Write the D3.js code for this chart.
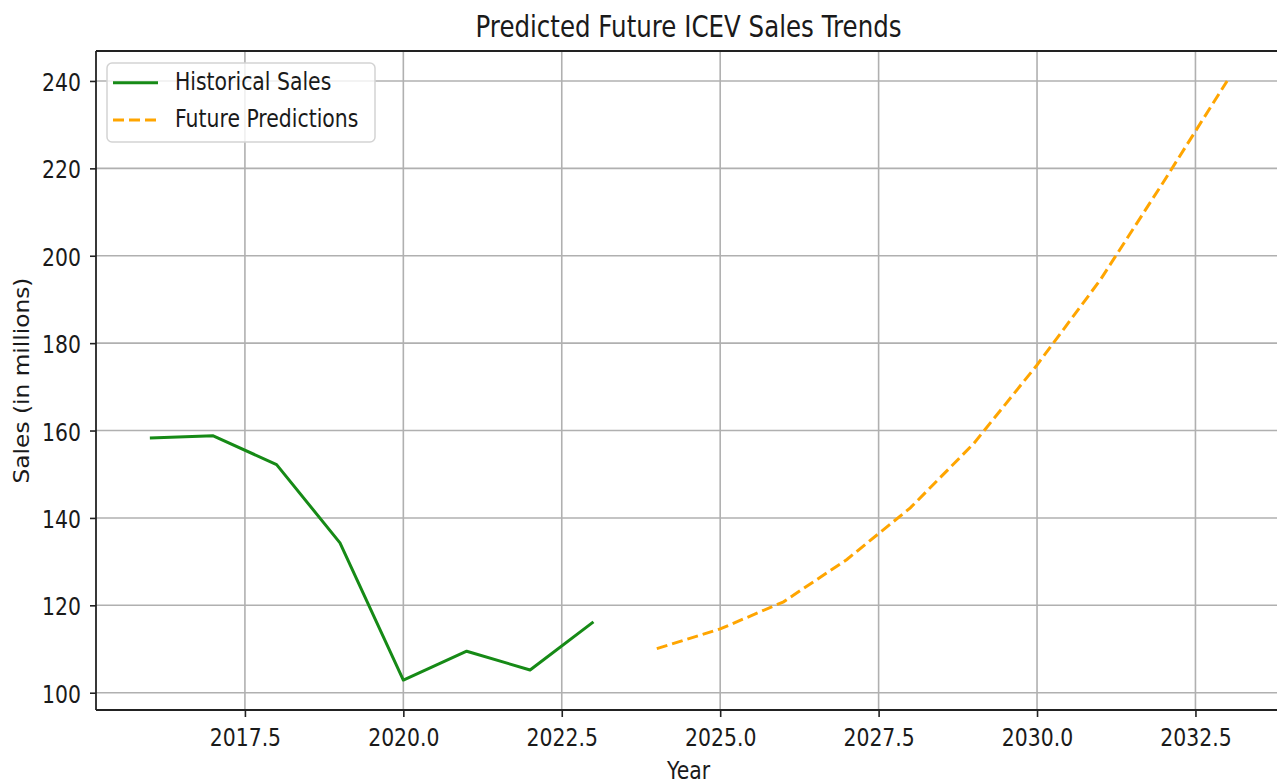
<!DOCTYPE html>
<html><head><meta charset="utf-8">
<script src="https://cdn.jsdelivr.net/npm/d3@7"></script>
<style>body{margin:0;background:#fff}svg{display:block}text{font-family:"DejaVu Sans",sans-serif;fill:#1a1a1a}</style>
</head><body><svg id="c" width="1277" height="783"></svg>
<script>
const histYears = [2016, 2017, 2018, 2019, 2020, 2021, 2022, 2023];
const histSales = [158.3, 158.8, 152.2, 134.3, 102.9, 109.5, 105.2, 116.2];
const futureYears = [2024, 2025, 2026, 2027, 2028, 2029, 2030, 2031, 2032, 2033];
const futureSales = [110.1, 114.6, 120.8, 130.5, 142.3, 157.0, 175.0, 194.5, 217.0, 240.0];
const xTicks = [2017.5, 2020, 2022.5, 2025, 2027.5, 2030, 2032.5];
const yTicks = [100, 120, 140, 160, 180, 200, 220, 240];
const titleText = "Predicted Future ICEV Sales Trends";
const xLabel = "Year";
const yLabel = "Sales (in millions)";
const legendLabels = ["Historical Sales", "Future Predictions"];

const SX = 0.826; // horizontal text compression of the reference image
const FS = 24.7;  // tick / label font size
const m = {left: 96, top: 51, right: 1281, bottom: 710};
const svg = d3.select("#c");

function pad(e) { const d = (e[1] - e[0]) * 0.05; return [e[0] - d, e[1] + d]; }
const x = d3.scaleLinear().domain(pad(d3.extent(histYears.concat(futureYears)))).range([m.left, m.right]);
const y = d3.scaleLinear().domain(pad(d3.extent(histSales.concat(futureSales)))).range([m.bottom, m.top]);

// background
svg.append("rect").attr("width", 1277).attr("height", 783).attr("fill", "#fff");

// grid
const grid = svg.append("g").attr("stroke", "#b0b0b0").attr("stroke-width", 1.6);
grid.selectAll(".gx").data(xTicks).join("line")
  .attr("x1", d => x(d)).attr("x2", d => x(d)).attr("y1", m.top).attr("y2", m.bottom);
grid.selectAll(".gy").data(yTicks).join("line")
  .attr("x1", m.left).attr("x2", m.right).attr("y1", d => y(d)).attr("y2", d => y(d));

// axes
const gx = svg.append("g").attr("transform", `translate(0,${m.bottom})`)
  .call(d3.axisBottom(x).tickValues(xTicks).tickFormat(d3.format(".1f")).tickSize(7));
gx.select(".domain").remove();
gx.selectAll(".tick line").attr("stroke", "#222").attr("stroke-width", 1.6);
gx.selectAll(".tick text").attr("y", 36).attr("dy", 0)
  .attr("transform", `scale(${SX},1)`).style("font-size", FS + "px").attr("fill", "#1a1a1a");

const gy = svg.append("g").attr("transform", `translate(${m.left},0)`)
  .call(d3.axisLeft(y).tickValues(yTicks).tickFormat(d3.format("d")).tickSize(6));
gy.select(".domain").remove();
gy.selectAll(".tick line").attr("stroke", "#222").attr("stroke-width", 1.6);
gy.selectAll(".tick text").attr("x", -15 / SX).attr("dy", 0).attr("y", 9.5)
  .attr("transform", `scale(${SX},1)`).style("font-size", FS + "px").attr("fill", "#1a1a1a");

// lines
const line = d3.line().x(d => x(d[0])).y(d => y(d[1]));
svg.append("path").datum(histYears.map((d, i) => [d, histSales[i]]))
  .attr("d", line).attr("fill", "none").attr("stroke", "#168a16").attr("stroke-width", 3)
  .attr("stroke-linejoin", "round");
svg.append("path").datum(futureYears.map((d, i) => [d, futureSales[i]]))
  .attr("d", d3.line().curve(d3.curveLinear).x(d => x(d[0])).y(d => y(d[1])))
  .attr("fill", "none").attr("stroke", "#FFA500").attr("stroke-width", 3)
  .attr("stroke-dasharray", "11,5");

// spines
const sp = svg.append("g").attr("stroke", "#222").attr("stroke-width", 1.8);
sp.append("line").attr("x1", m.left).attr("x2", m.left).attr("y1", m.top).attr("y2", m.bottom);
sp.append("line").attr("x1", m.left).attr("x2", m.right).attr("y1", m.top).attr("y2", m.top);
sp.append("line").attr("x1", m.left).attr("x2", m.right).attr("y1", m.bottom).attr("y2", m.bottom);
sp.append("line").attr("x1", m.right).attr("x2", m.right).attr("y1", m.top).attr("y2", m.bottom);

// title & labels
svg.append("text").attr("transform", `translate(${(m.left + m.right) / 2},37) scale(${SX},1)`)
  .attr("text-anchor", "middle").style("font-size", "29.7px").text(titleText);
svg.append("text").attr("transform", `translate(${(m.left + m.right) / 2},779) scale(${SX},1)`)
  .attr("text-anchor", "middle").style("font-size", FS + "px").text(xLabel);
svg.append("text").attr("transform", `translate(29,${(m.top + m.bottom) / 2}) rotate(-90) scale(1,0.875)`)
  .attr("text-anchor", "middle").style("font-size", "23.3px").text(yLabel);

// legend
const lg = svg.append("g");
lg.append("rect").attr("x", 107).attr("y", 63).attr("width", 268).attr("height", 79).attr("rx", 5)
  .attr("fill", "#fff").attr("fill-opacity", 0.8).attr("stroke", "#d3d3d3").attr("stroke-width", 1.5);
const items = [
  {label: legendLabels[0], color: "#168a16", dash: null, y: 82.7},
  {label: legendLabels[1], color: "#FFA500", dash: "11,5", y: 120}
];
items.forEach(it => {
  lg.append("line").attr("x1", 113).attr("x2", 158).attr("y1", it.y).attr("y2", it.y)
    .attr("stroke", it.color).attr("stroke-width", 3).attr("stroke-dasharray", it.dash);
  lg.append("text").attr("transform", `translate(175,${it.y + 7}) scale(${SX},1)`)
    .style("font-size", FS + "px").text(it.label);
});
</script></body></html>
